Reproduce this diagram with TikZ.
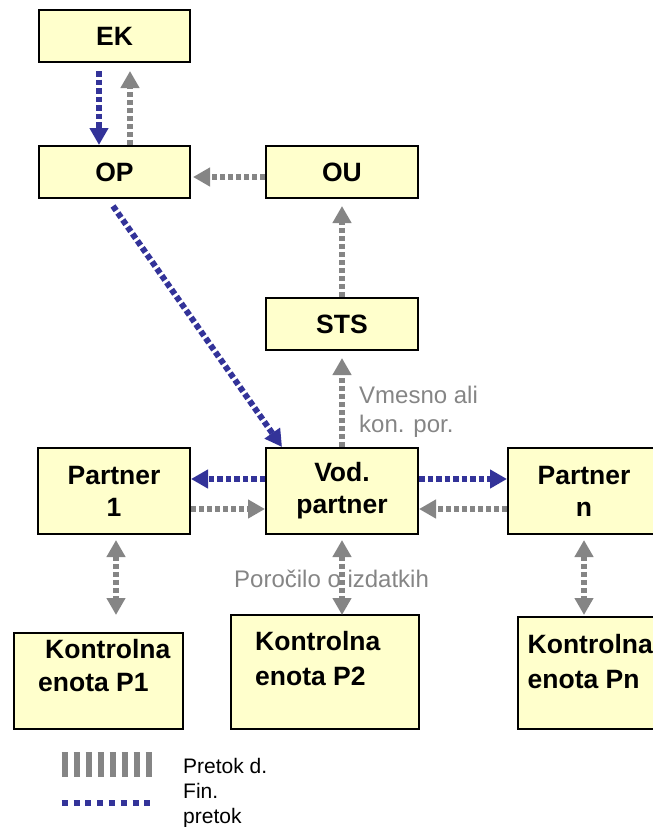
\documentclass[tikz,border=0pt]{standalone}
\usepackage{fontspec}
\setmainfont{Liberation Sans}
\usetikzlibrary{arrows.meta}
\definecolor{boxfill}{HTML}{FFFFCC}
\definecolor{finblue}{HTML}{333399}
\definecolor{docgray}{HTML}{858585}
\begin{document}
\begin{tikzpicture}[x=1pt,y=-1pt,
  box/.style={draw=black, line width=2pt, fill=boxfill, inner sep=0pt,
    font=\bfseries\fontsize{26.5}{32}\selectfont, align=center},
  ktext/.style={font=\bfseries\fontsize{26.5}{32}\selectfont, anchor=base west, inner sep=0pt},
  tip/.tip={Triangle[width=18pt,length=17pt]},
  grayflow/.style={draw=docgray, line width=6pt, dash pattern=on 5pt off 3pt, -tip},
  graydouble/.style={draw=docgray, line width=6pt, dash pattern=on 5pt off 3pt, tip-tip},
  blueflow/.style={draw=finblue, line width=6pt, dash pattern=on 5.5pt off 3pt, -tip},
  lbl/.style={text=docgray, font=\fontsize{24}{29}\selectfont, anchor=base west, inner sep=0pt},
  legtext/.style={font=\fontsize{21}{25}\selectfont, anchor=base west, inner sep=0pt}
]
\useasboundingbox (0,0) rectangle (653,827);

% boxes
\node[box, minimum width=151pt, minimum height=52pt] (EK) at (114.5,36) {EK};
\node[box, minimum width=151pt, minimum height=52pt] (OP) at (114.5,172) {OP};
\node[box, minimum width=152pt, minimum height=52pt] (OU) at (342,172) {OU};
\node[box, minimum width=152pt, minimum height=52pt] (STS) at (342,324) {STS};
\node[box, minimum width=152pt, minimum height=86pt] (P1) at (114,491) {Partner\\1};
\node[box, minimum width=152pt, minimum height=86pt] (Vod) at (342,491) {Vod.\\partner};
\node[box, minimum width=152pt, minimum height=86pt] (Pn) at (584,491) {Partner\\n};

\node[box, minimum width=169pt, minimum height=96pt, anchor=north west] (K1) at (13,632) {};
\node[box, minimum width=188pt, minimum height=114pt, anchor=north west] (K2) at (230,614) {};
\node[box, minimum width=150pt, minimum height=112pt, anchor=north west] (Kn) at (517,616) {};

\node[ktext] (K1a) at (45,658) {Kontrolna};
\node[ktext] (K1b) at (38,691) {enota P1};
\node[ktext] (K2a) at (255,650) {Kontrolna};
\node[ktext] (K2b) at (255,685) {enota P2};
\node[ktext] (Kna) at (527.5,653) {Kontrolna};
\node[ktext] (Knb) at (527.5,688) {enota Pn};

% connectors
\draw[blueflow] ([xshift=-15.5pt,yshift=-8pt]EK.south) -- ([xshift=-15.5pt]OP.north);
\draw[grayflow] ([xshift=15.5pt]OP.north) -- ([xshift=15.5pt,yshift=-8pt]EK.south);
\draw[grayflow] ([yshift=-5pt]OU.west) -- ([xshift=2pt,yshift=-5pt]OP.east);
\draw[grayflow] (STS.north) -- ([yshift=-7pt]OU.south);
\draw[grayflow] (Vod.north) -- ([yshift=-7pt]STS.south);
\draw[blueflow] ([xshift=-1.5pt,yshift=-7pt]OP.south) -- ([xshift=-60pt]Vod.north);
\draw[blueflow] ([yshift=12pt]Vod.west) -- ([yshift=12pt]P1.east);
\draw[grayflow] ([yshift=-18pt]P1.east) -- ([yshift=-18pt]Vod.west);
\draw[blueflow] ([yshift=12pt]Vod.east) -- ([yshift=12pt]Pn.west);
\draw[grayflow] ([yshift=-18pt]Pn.west) -- ([yshift=-18pt]Vod.east);

\coordinate (k1top) at (116,615);
\draw[graydouble] ([xshift=2pt,yshift=-5pt]P1.south) -- (k1top);
\draw[graydouble] ([yshift=-5pt]Vod.south) -- ([yshift=-1pt]Vod.south |- K2.north);
\draw[graydouble] ([yshift=-5pt]Pn.south) -- ([yshift=1pt]Pn.south |- Kn.north);

% labels
\node[lbl] (v1) at (359,403) {Vmesno ali};
\node[lbl] (v2) at (359,432) {kon. por.};
\node[lbl] (por) at (234,587) {Poročilo o izdatkih};

% legend
\coordinate (lg1) at (61.7,764.5);
\coordinate (lg2) at (152,764.5);
\coordinate (lb1) at (61.7,803);
\coordinate (lb2) at (152,803);
\draw[docgray, line width=25pt, dash pattern=on 6.7pt off 5.3pt] (lg1) -- (lg2);
\draw[finblue, line width=6.5pt, dash pattern=on 6pt off 5.8pt] (lb1) -- (lb2);
\node[legtext] (lt1) at (183,773) {Pretok d.};
\node[legtext] (lt2) at (183,798) {Fin.};
\node[legtext] (lt3) at (183,823) {pretok};
\end{tikzpicture}
\end{document}
